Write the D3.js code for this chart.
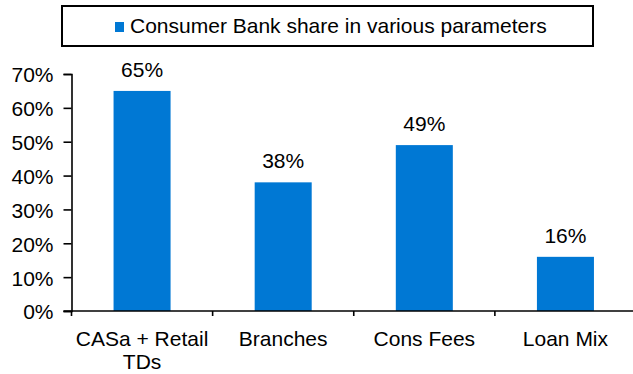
<!DOCTYPE html>
<html>
<head>
<meta charset="utf-8">
<script src="https://cdn.jsdelivr.net/npm/d3@7"></script>
<style>
  body { margin: 0; background: #fff; }
  text { font-family: "Liberation Sans", Arial, sans-serif; fill: #000; }
</style>
</head>
<body>
<svg id="chart" width="633" height="374"></svg>
<script>
// data
var categories = ["CASa + Retail TDs", "Branches", "Cons Fees", "Loan Mix"];
var values = [65, 38, 49, 16];
var yTicks = [0, 10, 20, 30, 40, 50, 60, 70];
var seriesName = "Consumer Bank share in various parameters";

var svg = d3.select("#chart"),
    margin = {left: 71.5, right: -3, top: 74, bottom: 63},
    width = +svg.attr("width"),
    height = +svg.attr("height"),
    color = "#0078d4",
    fontSize = "21px";

var x = d3.scaleBand()
    .domain(categories)
    .range([margin.left, width - margin.right])
    .paddingInner(0.596)
    .paddingOuter(0.298);

var y = d3.scaleLinear()
    .domain([0, 70])
    .range([height - margin.bottom, margin.top]);

// bars
svg.append("g").selectAll("rect")
    .data(values)
    .enter().append("rect")
    .attr("x", function (d, i) { return x(categories[i]); })
    .attr("y", function (d) { return y(d); })
    .attr("width", x.bandwidth())
    .attr("height", function (d) { return y(0) - y(d); })
    .attr("fill", color);

// value labels
svg.append("g").selectAll("text")
    .data(values)
    .enter().append("text")
    .attr("x", function (d, i) { return x(categories[i]) + x.bandwidth() / 2; })
    .attr("y", function (d) { return y(d) - 14; })
    .attr("text-anchor", "middle")
    .style("font-size", fontSize)
    .text(function (d) { return d + "%"; });

// y axis
var yAxis = svg.append("g")
    .attr("transform", "translate(" + margin.left + ",0)")
    .call(d3.axisLeft(y).tickValues(yTicks).tickSize(8).tickPadding(10)
        .tickFormat(function (d) { return d + "%"; }));
yAxis.select(".domain").attr("stroke", "#000").attr("stroke-width", 1.6);
yAxis.selectAll(".tick line").attr("stroke", "#000").attr("stroke-width", 1.6);
yAxis.selectAll("text")
    .attr("dy", "0.38em")
    .style("font-size", fontSize)
    .style("font-family", "'Liberation Sans', Arial, sans-serif");

// x axis (ticks at band boundaries)
var step = x.step();
var boundaries = categories.map(function (c, i) { return margin.left + i * step; });
var xg = svg.append("g");
xg.append("line")
    .attr("x1", margin.left - 8).attr("x2", width)
    .attr("y1", y(0)).attr("y2", y(0))
    .attr("stroke", "#000").attr("stroke-width", 1.6);
xg.selectAll(".xt")
    .data(boundaries)
    .enter().append("line")
    .attr("x1", function (d) { return d; }).attr("x2", function (d) { return d; })
    .attr("y1", y(0)).attr("y2", y(0) + 5)
    .attr("stroke", "#000").attr("stroke-width", 1.6);

// category labels, wrapped
var labelLines = [["CASa + Retail", "TDs"], ["Branches"], ["Cons Fees"], ["Loan Mix"]];
xg.selectAll(".xl")
    .data(categories)
    .enter().append("text")
    .attr("text-anchor", "middle")
    .style("font-size", fontSize)
    .each(function (d, i) {
        var t = d3.select(this);
        labelLines[i].forEach(function (line, j) {
            t.append("tspan")
                .attr("x", x(d) + x.bandwidth() / 2)
                .attr("y", y(0) + 35 + j * 23)
                .text(line);
        });
    });

// legend
var lg = svg.append("g");
lg.append("rect")
    .attr("x", 62).attr("y", 6)
    .attr("width", 531).attr("height", 40)
    .attr("fill", "#fff").attr("stroke", "#000").attr("stroke-width", 2);
lg.append("rect")
    .attr("x", 115).attr("y", 22)
    .attr("width", 9).attr("height", 10)
    .attr("fill", color);
lg.append("text")
    .attr("x", 130).attr("y", 33)
    .style("font-size", fontSize)
    .text(seriesName);
</script>
</body>
</html>
